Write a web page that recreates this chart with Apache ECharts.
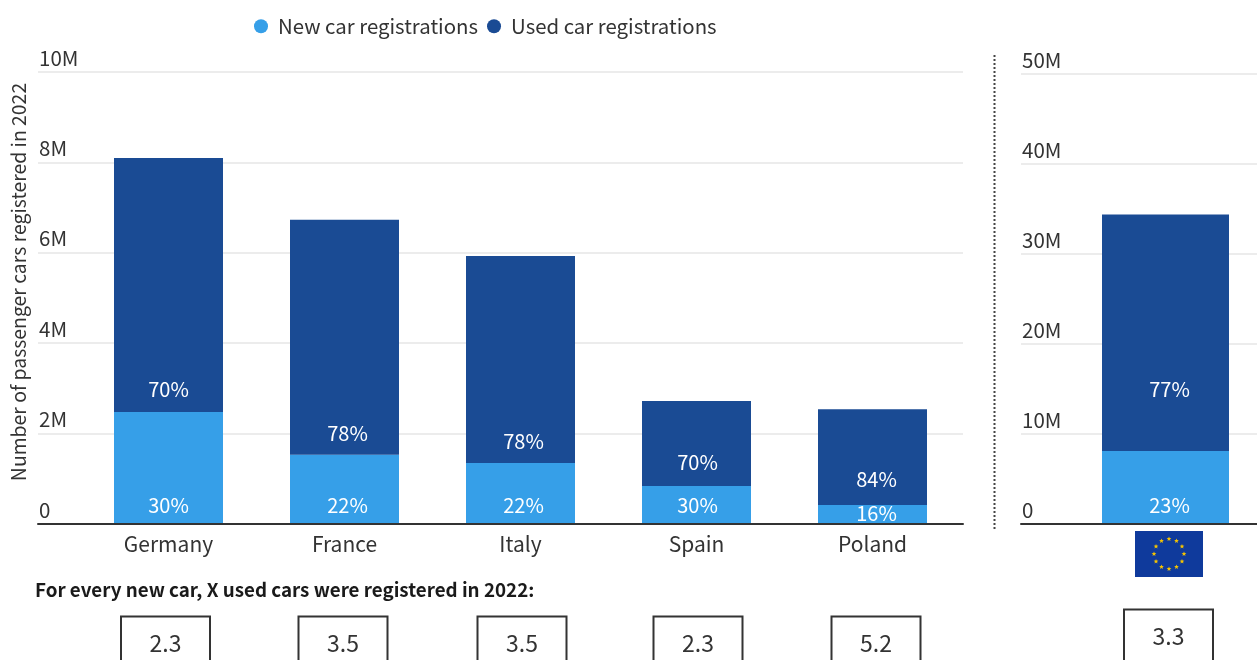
<!DOCTYPE html>
<html><head><meta charset="utf-8">
<style>html,body{margin:0;padding:0;background:#fff;overflow:hidden}#c{width:1257px;height:660px}</style>
<script src="https://cdn.jsdelivr.net/npm/echarts@6/dist/echarts.min.js"></script>
</head><body><div id="c"></div>
<script>
const countries = ['Germany','France','Italy','Spain','Poland'];
const newCars = [2.48,1.53,1.35,0.84,0.42];
const usedCars = [5.62,5.20,4.58,1.88,2.12];
const newShare = ['30%','22%','22%','30%','16%'];
const usedShare = ['70%','78%','78%','70%','84%'];
const ratios = ['2.3','3.5','3.5','2.3','5.2'];
const euNew = [8.1];
const euUsed = [26.3];
const euNewShare = ['23%'];
const euUsedShare = ['77%'];
const euRatio = '3.3';
const newLabelDistance = [9,9,9,9,1];
const usedLabelDistance = [12,11,12,14,16];
const labelShift = [0,3,3,1,4];
const euNewDistance = [9];
const euUsedDistance = [52];
const euShift = [4];

const FONT = '"Noto Sans CJK SC","Noto Sans",sans-serif';
const TEXT = '#333333', LIGHT = '#369fe8', DARK = '#1a4b94';
const BOTTOM = 524;
const chart = echarts.init(document.getElementById('c'), null, {renderer:'canvas'});

const tickFmt = v => v === 0 ? '0' : v + 'M';
const valueAxisBg = (grid,max,interval,extra) => Object.assign({
  type:'value',gridIndex:grid,min:0,max,interval,
  axisLine:{show:false},axisTick:{show:false},
  splitLine:{show:true,lineStyle:{color:'#e6e6e6',width:1.5}},
  axisLabel:{inside:true,margin:0,verticalAlign:'bottom',align:'left',padding:[0,0,4,1],
    color:TEXT,fontFamily:FONT,fontSize:20.5,formatter:tickFmt}
},extra||{});
const baseAxis = grid => ({type:'value',gridIndex:grid,min:0,max:1,z:5,
  axisLine:{show:true,onZero:false,lineStyle:{color:TEXT,width:2}},
  axisTick:{show:false},axisLabel:{show:false},splitLine:{show:false}});

const labelOf = (texts,dists,shifts) => (v,i) => ({
  value:v,
  label:{show:true,position:'insideBottom',distance:dists[i],offset:[shifts[i],0],formatter:texts[i],
    color:'#fff',fontFamily:FONT,fontSize:20}
});

const graphics = [];
graphics.push({type:'line',shape:{x1:994.5,y1:55,x2:994.5,y2:530},
  style:{stroke:'#444',lineWidth:2,lineDash:[2,2]}});
graphics.push({type:'text',x:35,y:590,style:{text:'For every new car, X used cars were registered in 2022:',
  font:'bold 18.8px '+FONT,fill:'#1a1a1a',textVerticalAlign:'middle',verticalAlign:'middle'}});
const boxCentres = [165.5,343,522,698,876];
const box = (cx,top,txt) => {
  graphics.push({type:'rect',shape:{x:cx-44.5,y:top,width:89,height:70},
    style:{fill:'#fff',stroke:'#333',lineWidth:2}});
  graphics.push({type:'text',x:cx,y:top+27,style:{text:txt,font:'23px '+FONT,fill:TEXT,
    textAlign:'center',align:'center',verticalAlign:'middle',textVerticalAlign:'middle'}});
};
ratios.forEach((r,i)=>box(boxCentres[i],616.5,r));
box(1168.5,609.5,euRatio);
graphics.push({type:'rect',shape:{x:1135,y:531,width:68,height:46},style:{fill:'#0f3a9c'}});
for(let k=0;k<12;k++){
  const a=k*Math.PI/6, cx=1169+15*Math.sin(a), cy=554-15*Math.cos(a), pts=[];
  for(let j=0;j<10;j++){
    const r=j%2?1.1:2.5, b=j*Math.PI/5;
    pts.push([cx+r*Math.sin(b),cy-r*Math.cos(b)]);
  }
  graphics.push({type:'polygon',shape:{points:pts},style:{fill:'#f5c400'}});
}

chart.setOption({
  animation:false,
  backgroundColor:'#fff',
  legend:{left:254,top:16,padding:0,itemWidth:14,itemHeight:14,itemGap:9,icon:'circle',
    data:['New car registrations','Used car registrations'],
    textStyle:{color:TEXT,fontFamily:FONT,fontSize:20.4,padding:[0,0,0,5]}},
  grid:[
    {left:38,top:72,width:925,height:BOTTOM-72,outerBoundsMode:'none'},
    {left:80.5,top:72,width:880,height:BOTTOM-72,outerBoundsMode:'none'},
    {left:1021,top:74,width:289,height:BOTTOM-74,outerBoundsMode:'none'}
  ],
  xAxis:[
    baseAxis(0),
    {type:'category',gridIndex:1,data:countries,axisLine:{show:false},axisTick:{show:false},
      axisLabel:{color:TEXT,fontFamily:FONT,fontSize:21,margin:10}},
    {type:'category',gridIndex:2,data:['EU'],z:5,
      axisLine:{show:true,lineStyle:{color:TEXT,width:2}},axisTick:{show:false},axisLabel:{show:false}}
  ],
  yAxis:[
    valueAxisBg(0,10,2,{name:'Number of passenger cars registered in 2022',nameLocation:'middle',nameGap:10,
      nameRotate:90,nameTextStyle:{color:TEXT,fontFamily:FONT,fontSize:19.4,padding:[0,0,0,32]}}),
    {type:'value',gridIndex:1,min:0,max:10,interval:2,show:false},
    valueAxisBg(2,50,10)
  ],
  series:[
    {name:'New car registrations',type:'bar',stack:'a',xAxisIndex:1,yAxisIndex:1,barWidth:109,
      itemStyle:{color:LIGHT},data:newCars.map(labelOf(newShare,newLabelDistance,labelShift))},
    {name:'Used car registrations',type:'bar',stack:'a',xAxisIndex:1,yAxisIndex:1,barWidth:109,
      itemStyle:{color:DARK},data:usedCars.map(labelOf(usedShare,usedLabelDistance,labelShift))},
    {name:'New car registrations',type:'bar',stack:'b',xAxisIndex:2,yAxisIndex:2,barWidth:127,
      itemStyle:{color:LIGHT},data:euNew.map(labelOf(euNewShare,euNewDistance,euShift))},
    {name:'Used car registrations',type:'bar',stack:'b',xAxisIndex:2,yAxisIndex:2,barWidth:127,
      itemStyle:{color:DARK},data:euUsed.map(labelOf(euUsedShare,euUsedDistance,euShift))}
  ],
  graphic:{elements:graphics}
});
</script></body></html>
